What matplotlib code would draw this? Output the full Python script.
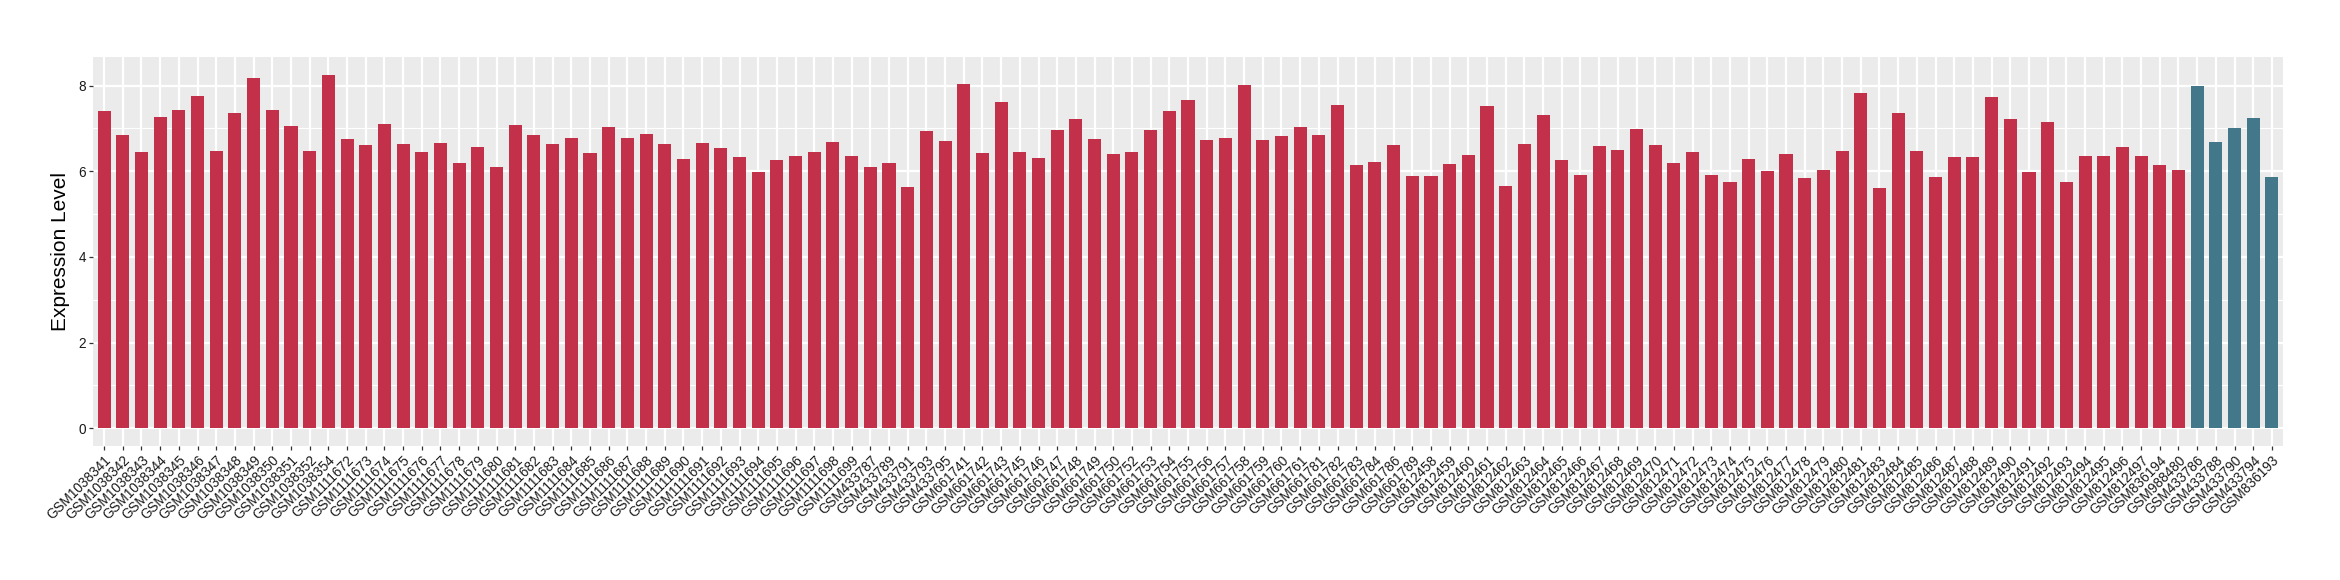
import matplotlib
matplotlib.use("Agg")
import matplotlib.pyplot as plt
import numpy as np

plt.rcParams['font.family'] = ['Liberation Sans', 'DejaVu Sans']

# sample ids, in plot order
samples = [
    "GSM1038341", "GSM1038342", "GSM1038343", "GSM1038344", "GSM1038345",
    "GSM1038346", "GSM1038347", "GSM1038348", "GSM1038349", "GSM1038350",
    "GSM1038351", "GSM1038352", "GSM1038354",
    "GSM1111672", "GSM1111673", "GSM1111674", "GSM1111675", "GSM1111676",
    "GSM1111677", "GSM1111678", "GSM1111679", "GSM1111680", "GSM1111681",
    "GSM1111682", "GSM1111683", "GSM1111684", "GSM1111685", "GSM1111686",
    "GSM1111687", "GSM1111688", "GSM1111689", "GSM1111690", "GSM1111691",
    "GSM1111692", "GSM1111693", "GSM1111694", "GSM1111695", "GSM1111696",
    "GSM1111697", "GSM1111698", "GSM1111699",
    "GSM433787", "GSM433789", "GSM433791", "GSM433793", "GSM433795",
    "GSM661741", "GSM661742", "GSM661743", "GSM661745", "GSM661746",
    "GSM661747", "GSM661748", "GSM661749", "GSM661750", "GSM661752",
    "GSM661753", "GSM661754", "GSM661755", "GSM661756", "GSM661757",
    "GSM661758", "GSM661759", "GSM661760", "GSM661761", "GSM661781",
    "GSM661782", "GSM661783", "GSM661784", "GSM661786", "GSM661789",
    "GSM812458", "GSM812459", "GSM812460", "GSM812461", "GSM812462",
    "GSM812463", "GSM812464", "GSM812465", "GSM812466", "GSM812467",
    "GSM812468", "GSM812469", "GSM812470", "GSM812471", "GSM812472",
    "GSM812473", "GSM812474", "GSM812475", "GSM812476", "GSM812477",
    "GSM812478", "GSM812479", "GSM812480", "GSM812481", "GSM812483",
    "GSM812484", "GSM812485", "GSM812486", "GSM812487", "GSM812488",
    "GSM812489", "GSM812490", "GSM812491", "GSM812492", "GSM812493",
    "GSM812494", "GSM812495", "GSM812496", "GSM812497",
    "GSM836194", "GSM988480",
    "GSM433786", "GSM433788", "GSM433790", "GSM433794", "GSM836193",
]

expr = [
    7.41, 6.85, 6.45, 7.27, 7.44, 7.77, 6.48, 7.37, 8.19, 7.44,
    7.06, 6.48, 8.26,
    6.76, 6.62, 7.11, 6.64, 6.45, 6.66, 6.20, 6.57, 6.10, 7.09,
    6.85, 6.64, 6.78, 6.43, 7.04, 6.78, 6.88, 6.64, 6.29, 6.66,
    6.55, 6.34, 5.98, 6.27, 6.36, 6.45, 6.69, 6.36,
    6.10, 6.20, 5.63, 6.95, 6.71,
    8.05, 6.43, 7.63, 6.45, 6.31, 6.97, 7.23, 6.76, 6.41, 6.45,
    6.97, 7.41, 7.67, 6.73, 6.78, 8.02, 6.73, 6.83, 7.04, 6.85,
    7.55, 6.15, 6.22, 6.62, 5.89,
    5.89, 6.17, 6.38, 7.53, 5.66, 6.64, 7.32, 6.27, 5.91, 6.59,
    6.50, 6.99, 6.62, 6.20, 6.45, 5.91, 5.75, 6.29, 6.01, 6.41,
    5.84, 6.03, 6.48, 7.84, 5.61, 7.37, 6.48, 5.87, 6.34, 6.34,
    7.74, 7.23, 5.98, 7.16, 5.75, 6.36, 6.36, 6.57, 6.36,
    6.15, 6.03,
    8.00, 6.69, 7.02, 7.25, 5.87,
]

# group of each sample: the last five are the second group
group = ["A"] * 112 + ["B"] * 5
group_colors = {"A": "#C3304A", "B": "#42788A"}

fig = plt.figure(figsize=(23.4, 5.8), dpi=100)
ax = fig.add_axes([0.0397, 0.231, 0.936, 0.671])

x = np.arange(len(samples))
ax.set_facecolor("#EBEBEB")
ax.bar(x, expr, width=0.7, color=[group_colors[g] for g in group], zorder=3)

ax.set_xlim(-0.6, len(samples) - 0.4)
ymax = max(expr)
ax.set_ylim(-0.05 * ymax, 1.05 * ymax)

ax.set_yticks([0, 2, 4, 6, 8])
ax.set_yticks([1, 3, 5, 7], minor=True)
ax.set_xticks(x)
ax.set_xticklabels(samples, rotation=45, ha="right", va="top",
                   rotation_mode="anchor", fontsize=9.8, color="#1A1A1A")
ax.tick_params(axis="y", labelsize=9.8, labelcolor="#1A1A1A")
ax.tick_params(axis="both", which="major", length=3, pad=2,
               color="#333333", width=0.9)
ax.tick_params(axis="y", which="minor", length=0)

ax.grid(True, which="major", color="white", linewidth=1.6, zorder=0)
ax.grid(True, which="minor", axis="y", color="white", linewidth=0.8, zorder=0)
ax.set_axisbelow(True)
for s in ax.spines.values():
    s.set_visible(False)

ax.set_ylabel("Expression Level", fontsize=15, labelpad=6)

fig.savefig("out.png", dpi=100)
